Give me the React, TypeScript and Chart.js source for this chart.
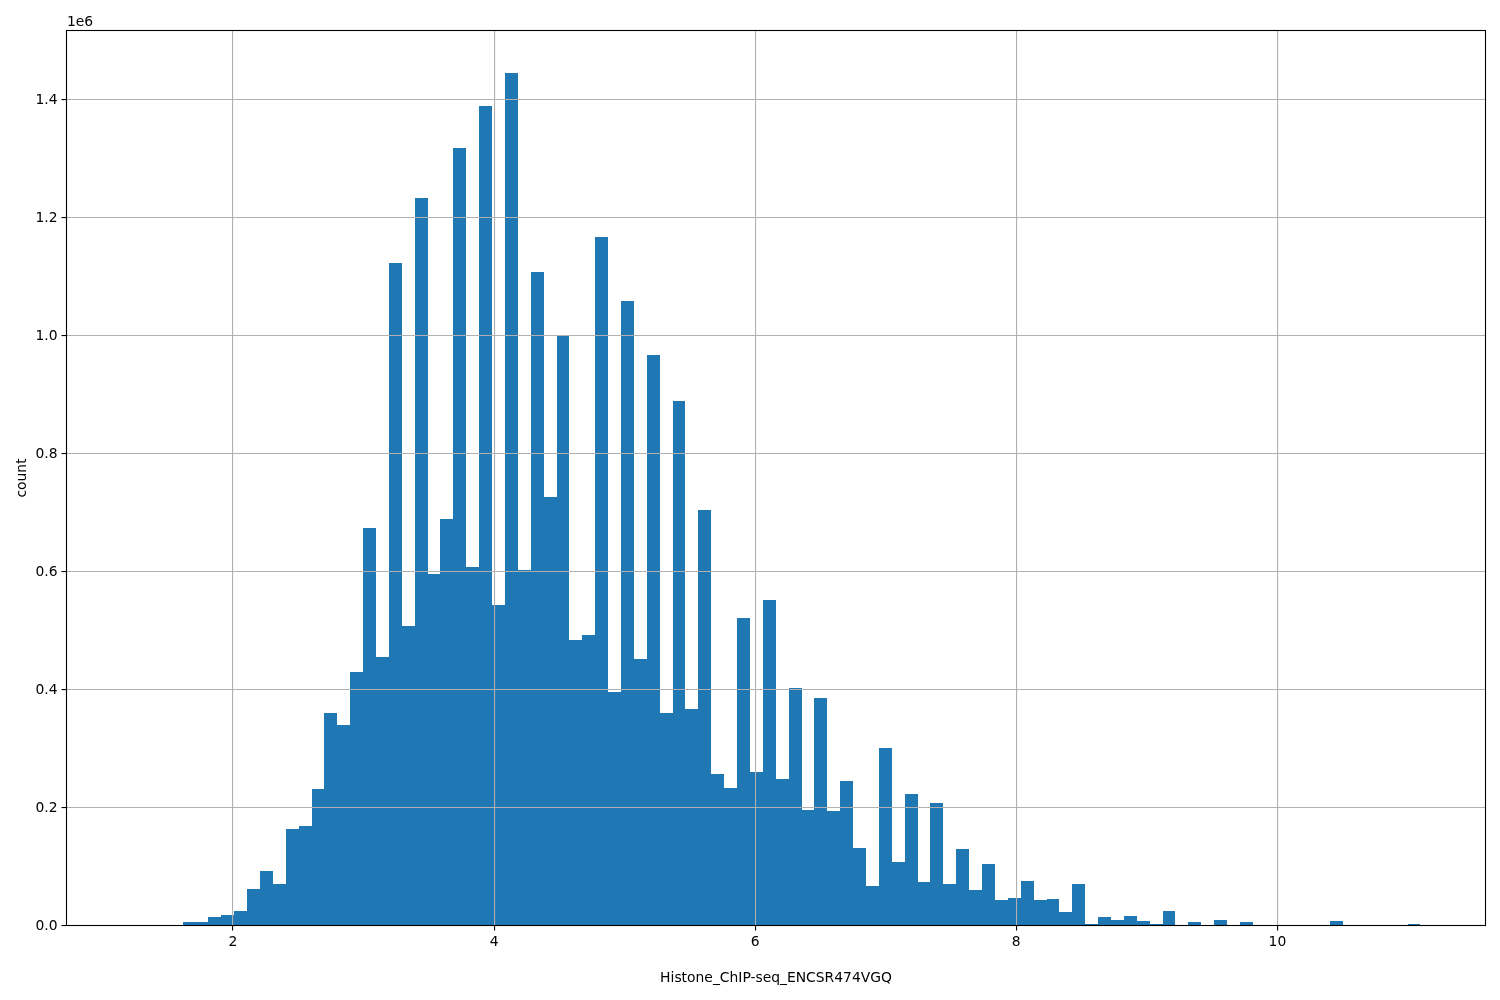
import React, { useEffect, useRef } from "react";
import { Chart, registerables } from "chart.js";

Chart.register(...registerables);

const xAxisLabel = "Histone_ChIP-seq_ENCSR474VGQ";
const yAxisLabel = "count";
const yOffsetLabel = "1e6";

const binStart = 1.219;
const binWidth = 0.09877;

const counts = [
  0, 0, 0, 0, 6000, 6000, 14400, 18000, 24500, 62000,
  92000, 70000, 163500, 168600, 231000, 360000, 339000, 429000, 673000, 455000,
  1122000, 507000, 1232000, 595000, 688000, 1317000, 608000, 1388000, 543000, 1444000,
  603000, 1107000, 726000, 999000, 483000, 492500, 1166000, 395000, 1058000, 451000,
  966000, 360000, 888000, 367000, 704500, 256000, 233000, 521000, 260000, 551000,
  248000, 402500, 195800, 385000, 194000, 245000, 131000, 67000, 300000, 107600,
  223000, 73700, 207600, 70300, 129600, 60000, 104000, 43200, 46600, 75400,
  43200, 45000, 22900, 70300, 2500, 14400, 9300, 16000, 7600, 2500,
  24500, 0, 6000, 0, 9300, 0, 6000, 0, 0, 0,
  0, 0, 0, 7600, 0, 0, 0, 0, 0, 2500,
];

const xRange = { min: 0.725, max: 11.594 };
const yRange = { min: 0, max: 1516600 };
const xTicks = [2, 4, 6, 8, 10];
const yTicks = [0, 200000, 400000, 600000, 800000, 1000000, 1200000, 1400000];

const FONT = { family: "'DejaVu Sans'", size: 13.89, lineHeight: 1.2 };

// Histogram bars sit on whole pixels, so neighbouring bins join without seams.
const snapPlugin = {
  id: "snap",
  afterDatasetsUpdate(chart: any) {
    chart.getDatasetMeta(0).data.forEach((bar: any) => {
      const l = Math.round(bar.x - bar.width / 2);
      const r = Math.round(bar.x + bar.width / 2);
      bar.x = (l + r) / 2;
      bar.width = r - l;
      bar.y = Math.round(bar.y);
      bar.base = Math.round(bar.base);
    });
  },
};

const framePlugin = {
  id: "frame",
  afterDraw(chart: any) {
    const { ctx, chartArea: a } = chart;
    ctx.save();
    ctx.strokeStyle = "#000";
    ctx.lineWidth = 1.1;
    ctx.strokeRect(a.left, a.top, a.right - a.left, a.bottom - a.top);
    ctx.fillStyle = "#000";
    ctx.font = "13.89px 'DejaVu Sans'";
    ctx.textAlign = "left";
    ctx.textBaseline = "alphabetic";
    ctx.fillText(yOffsetLabel, a.left + 0.5, 26);
    ctx.restore();
  },
};

export default function App() {
  const ref = useRef<HTMLCanvasElement | null>(null);
  useEffect(() => {
    document.body.style.margin = "0";
    document.body.style.background = "#fff";
    const chart = new Chart(ref.current as HTMLCanvasElement, {
      type: "bar",
      data: {
        datasets: [
          {
            data: counts.map((c, i) => ({ x: binStart + binWidth * (i + 0.5), y: c })),
            backgroundColor: "#1f77b4",
            borderWidth: 0,
            inflateAmount: 0,
            barPercentage: 1,
            categoryPercentage: 1,
          },
        ],
      },
      options: {
        animation: false,
        responsive: false,
        devicePixelRatio: 1,
        layout: { padding: { top: 30.5, right: 14.5, left: 0, bottom: 0 } },
        plugins: { legend: { display: false }, tooltip: { enabled: false }, title: { display: false } },
        scales: {
          x: {
            type: "linear",
            min: xRange.min,
            max: xRange.max,
            offset: false,
            afterFit(s: any) {
              s.height = 74.5;
            },
            afterBuildTicks(s: any) {
              s.ticks = xTicks.map((value) => ({ value }));
            },
            grid: { offset: false, color: "#b0b0b0", lineWidth: 1.1, z: 1, tickColor: "#000", tickLength: 5, tickWidth: 1.1, drawTicks: true },
            border: { display: false },
            ticks: {
              color: "#000",
              font: FONT,
              padding: 4,
              maxRotation: 0,
              autoSkip: false,
              callback: (v: any) => String(v),
            },
            title: { display: true, text: xAxisLabel, color: "#000", font: FONT, padding: { top: 0, bottom: 13 } },
          },
          y: {
            type: "linear",
            min: yRange.min,
            max: yRange.max,
            afterFit(s: any) {
              s.width = 66.5;
            },
            afterBuildTicks(s: any) {
              s.ticks = yTicks.map((value) => ({ value }));
            },
            grid: { color: "#b0b0b0", lineWidth: 1.1, z: 1, tickColor: "#000", tickLength: 5, tickWidth: 1.1, drawTicks: true },
            border: { display: false },
            ticks: {
              color: "#000",
              font: FONT,
              padding: 4,
              labelOffset: 1,
              autoSkip: false,
              callback: (v: any) => (Number(v) / 1e6).toFixed(1),
            },
            title: { display: true, text: yAxisLabel, color: "#000", font: FONT, padding: { top: 14, bottom: 0 } },
          },
        },
      },
      plugins: [snapPlugin, framePlugin],
    } as any);
    return () => chart.destroy();
  }, []);
  return <canvas ref={ref} width={1500} height={1000} style={{ display: "block", width: 1500, height: 1000 }} />;
}
